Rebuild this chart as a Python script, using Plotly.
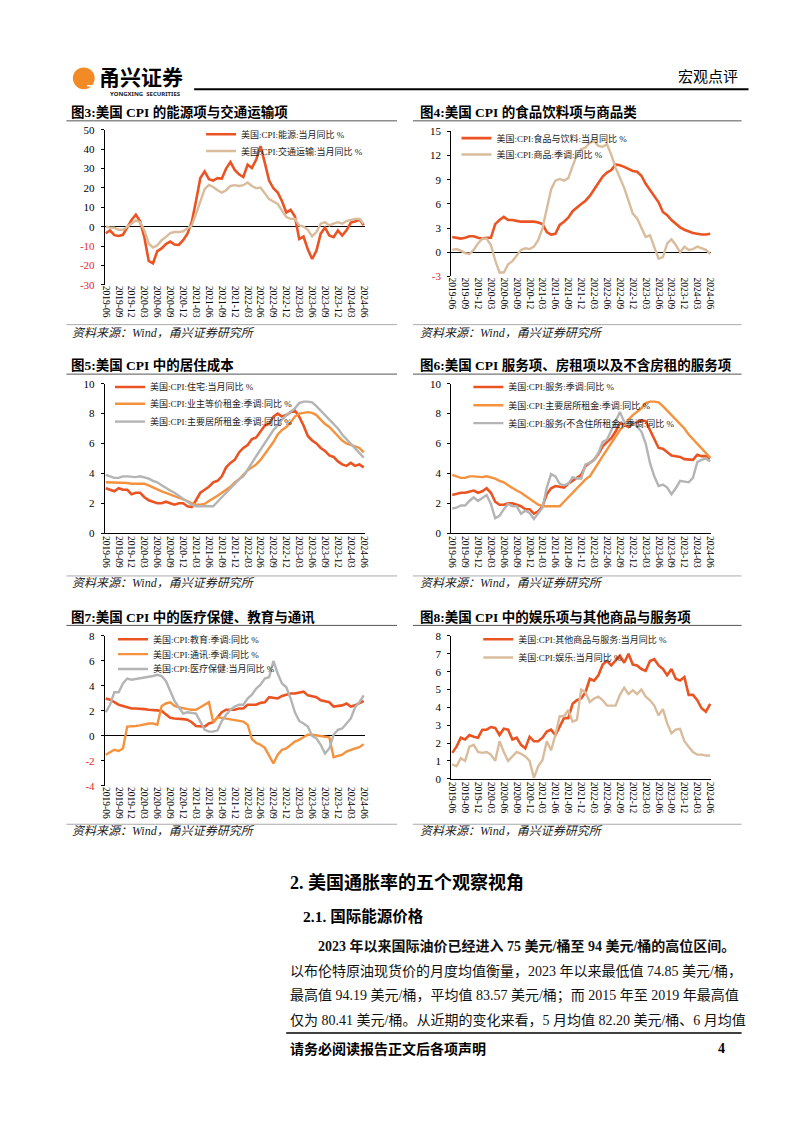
import plotly.graph_objects as go

# page is 802x1133; the html body has an 8px default margin, so the figure is offset by it
W, H = 802, 1133
OFF = 8
FW, FH = W - OFF, H - OFF
def X(px): return (px - OFF) / FW
def Y(py): return 1 - (py - OFF) / FH

# ---------------- data ----------------
tick_labels = ["2019-06", "2019-09", "2019-12", "2020-03", "2020-06", "2020-09", "2020-12",
               "2021-03", "2021-06", "2021-09", "2021-12", "2022-03", "2022-06", "2022-09",
               "2022-12", "2023-03", "2023-06", "2023-09", "2023-12", "2024-03", "2024-06"]
N_MONTHS = 61
months = list(range(N_MONTHS))
tick_vals = list(range(0, N_MONTHS, 3))

energy = [-3.4, -2.0, -4.4, -4.8, -4.2, -0.6, 3.4, 6.2, 2.8, -5.7,
          -17.7, -18.9, -12.6, -11.2, -9.0, -7.7, -9.2, -9.4, -7.0, -3.6,
          2.4, 13.2, 25.1, 28.5, 24.5, 23.8, 25.0, 24.8, 30.0, 33.3,
          29.3, 27.0, 25.6, 32.0, 30.3, 34.6, 41.6, 32.9, 23.8, 19.8,
          17.6, 13.1, 7.3, 8.7, 5.2, -6.4, -5.1, -11.7, -16.7, -12.5,
          -3.6, -0.5, -4.5, -5.4, -2.0, -4.6, -1.9, 2.1, 2.6, 3.7, 0.8]
transport = [0.0, -0.5, -0.6, -1.6, -1.6, 0.0, 2.0, 3.2, 2.3, -2.0,
             -8.7, -10.8, -9.6, -7.0, -5.3, -3.3, -2.8, -2.8, -2.4, -1.0,
             0.6, 6.6, 13.4, 19.4, 21.5, 20.5, 18.8, 17.6, 18.8, 21.0,
             21.4, 21.0, 21.4, 22.8, 21.0, 19.8, 20.2, 17.1, 14.2, 13.0,
             11.7, 8.3, 4.9, 4.0, 4.0, 0.6, 0.0, -1.6, -5.0, -2.8,
             1.5, 2.3, 0.6, 1.5, 2.3, 1.5, 2.9, 3.5, 4.0, 4.0, 1.5]
food = [1.9, 1.8, 1.7, 1.8, 2.0, 2.0, 1.8, 1.7, 1.8, 1.8,
        3.5, 4.0, 4.4, 4.0, 4.0, 3.9, 3.8, 3.8, 3.8, 3.8,
        3.7, 3.5, 2.5, 2.2, 2.3, 3.4, 3.8, 4.3, 5.1, 5.6,
        6.0, 6.4, 7.0, 7.8, 8.6, 9.4, 9.9, 10.2, 10.9, 10.8,
        10.6, 10.3, 10.1, 10.0, 9.5, 8.5, 7.7, 7.0, 6.2, 5.0,
        4.6, 4.0, 3.5, 3.1, 2.8, 2.6, 2.4, 2.3, 2.2, 2.2, 2.3]
goods = [0.3, 0.4, 0.2, -0.1, -0.2, 0.3, 1.1, 1.7, 1.7, 0.9,
         -1.0, -2.5, -2.5, -1.5, -1.1, -0.4, 0.3, 0.5, 0.4, 0.7,
         1.5, 3.0, 5.6, 7.8, 8.9, 9.1, 8.9, 9.2, 10.7, 12.1,
         12.8, 13.0, 13.6, 13.8, 13.2, 13.1, 13.4, 12.1, 10.5, 9.3,
         8.0, 6.4, 4.8, 4.2, 3.1, 1.9, 2.1, 0.7, -0.8, -0.6,
         1.1, 1.6, 0.9, 0.0, 0.7, 0.3, 0.4, 0.7, 0.5, 0.3, -0.2]
housing = [3.0, 2.9, 2.8, 3.0, 2.9, 2.9, 2.6, 2.7, 2.7, 2.4,
           2.2, 2.1, 2.0, 2.0, 2.1, 2.0, 1.9, 2.0, 2.0, 1.8,
           1.75, 2.2, 2.7, 2.9, 3.1, 3.4, 3.5, 3.8, 4.4, 4.7,
           4.9, 5.4, 5.7, 5.9, 6.3, 6.4, 6.8, 7.2, 7.3, 7.8,
           8.0, 7.8, 7.9, 8.1, 8.2, 7.8, 7.2, 6.5, 6.2, 6.0,
           5.7, 5.5, 5.2, 5.1, 4.8, 4.6, 4.5, 4.7, 4.5, 4.6, 4.4]
oer = [3.4, 3.4, 3.4, 3.4, 3.4, 3.35, 3.3, 3.3, 3.3, 3.3,
       3.2, 3.05, 2.9, 2.8, 2.7, 2.6, 2.5, 2.4, 2.3, 2.15,
       2.0, 1.9, 1.9, 1.95, 2.15, 2.3, 2.5, 2.7, 2.9, 3.1,
       3.4, 3.6, 3.9, 4.2, 4.4, 4.6, 4.9, 5.3, 5.7, 6.1,
       6.6, 6.9, 7.1, 7.4, 7.8, 8.0, 8.05, 8.1, 8.05, 7.9,
       7.6, 7.3, 7.1, 6.8, 6.5, 6.2, 6.0, 5.9, 5.8, 5.7, 5.4]
rent = [3.9, 3.8, 3.7, 3.7, 3.8, 3.8, 3.75, 3.75, 3.8, 3.75,
        3.65, 3.5, 3.4, 3.2, 3.0, 2.85, 2.7, 2.5, 2.35, 2.1,
        1.9, 1.8, 1.8, 1.8, 1.75, 1.8, 2.1, 2.4, 2.7, 3.0,
        3.3, 3.6, 3.8, 4.3, 4.7, 5.15, 5.6, 6.0, 6.5, 6.9,
        7.2, 7.6, 7.9, 8.1, 8.35, 8.7, 8.8, 8.8, 8.75, 8.5,
        8.2, 7.9, 7.6, 7.3, 7.0, 6.6, 6.3, 6.0, 5.7, 5.4, 5.05]
services = [2.55, 2.65, 2.7, 2.7, 2.8, 2.85, 2.7, 2.8, 3.0, 2.7,
            2.1, 1.9, 1.9, 2.0, 2.0, 1.9, 1.8, 1.6, 1.6, 1.3,
            1.45, 1.8, 2.6, 3.0, 3.15, 3.1, 3.05, 3.3, 3.5, 3.7,
            3.9, 4.5, 4.7, 4.9, 5.3, 5.8, 6.1, 6.35, 6.8, 7.35,
            7.25, 7.1, 7.3, 7.45, 7.55, 7.5, 6.9, 6.25, 5.7, 5.65,
            5.4, 5.2, 5.15, 5.1, 4.95, 4.9, 4.9, 5.25, 5.15, 5.15, 5.0]
services_ex = [1.65, 1.7, 1.85, 1.85, 2.15, 2.4, 2.15, 2.35, 2.55, 1.95,
               1.0, 1.15, 1.6, 1.95, 1.8, 1.8, 1.3, 1.5, 1.35, 0.95,
               1.3, 1.7, 3.05, 3.95, 3.8, 3.3, 3.2, 3.3, 3.75, 3.65,
               3.65, 4.6, 4.7, 4.9, 5.35, 6.1, 6.25, 6.9, 7.45, 8.1,
               7.45, 7.25, 7.45, 7.15, 6.8, 6.0, 4.7, 3.8, 3.15, 3.25,
               3.05, 2.6, 3.0, 3.5, 3.45, 3.4, 3.7, 4.75, 4.9, 5.0, 4.8]
education = [3.0, 2.9, 2.7, 2.5, 2.4, 2.3, 2.2, 2.2, 2.2, 2.15,
             2.1, 2.1, 2.05, 2.0, 1.7, 1.45, 1.4, 1.4, 1.35, 1.3,
             1.1, 0.8, 0.75, 0.75, 1.0, 1.1, 1.5, 1.9, 2.1, 2.1,
             2.1, 2.2, 2.2, 2.5, 2.5, 2.5, 2.65, 2.7, 3.1, 3.05,
             3.0, 3.2, 3.3, 3.4, 3.4, 3.45, 3.55, 3.25, 3.2, 3.1,
             2.85, 2.75, 2.7, 2.35, 2.4, 2.45, 2.6, 2.35, 2.45, 2.6, 2.8]
telecom = [-1.5, -1.3, -1.1, -1.2, -1.0, 0.75, 0.75, 0.8, 0.85, 0.95,
           1.0, 1.0, 0.9, 2.4, 2.6, 2.7, 2.4, 2.3, 2.2, 2.15,
           2.1, 2.1, 2.3, 2.5, 2.7, 1.1, 1.5, 1.45, 1.4, 1.35,
           1.3, 1.2, 1.15, 0.9, -0.25, -0.55, -0.7, -0.95, -1.55, -2.2,
           -1.5, -1.1, -1.0, -0.7, -0.45, -0.3, -0.1, 0.1, 0.1, 0.05,
           -0.05, -0.05, -0.1, -1.7, -1.6, -1.5, -1.25, -1.1, -1.0, -0.9, -0.65]
medical = [1.9, 2.5, 3.5, 3.5, 4.2, 4.6, 4.5, 4.55, 4.6, 4.65,
           4.7, 4.8, 4.9, 4.8, 4.4, 3.6, 2.8, 2.3, 1.8, 1.9,
           1.85, 1.8, 1.15, 0.5, 0.35, 0.35, 0.45, 1.2, 1.7, 2.1,
           2.35, 2.5, 2.5, 3.0, 3.3, 3.8, 4.1, 4.6, 4.7, 6.0,
           5.0, 4.2, 3.9, 3.0, 1.9, 1.2, 1.0, 0.75, 0.0, -0.2,
           -0.7, -1.4, -1.0, 0.1, 0.5, 0.6, 1.0, 1.4, 2.3, 2.7, 3.25]
other_gs = [1.45, 1.8, 2.3, 2.2, 2.45, 2.35, 2.3, 2.75, 2.75, 2.9,
            2.85, 2.45, 2.8, 2.75, 2.2, 2.3, 1.9, 1.7, 2.35, 2.1,
            2.1, 2.3, 2.65, 2.75, 2.45, 2.9, 3.4, 3.4, 4.2, 4.4,
            4.5, 4.85, 5.6, 5.5, 5.8, 6.4, 6.6, 6.35, 6.6, 6.9,
            6.5, 7.0, 6.4, 6.35, 6.15, 6.05, 6.6, 6.7, 6.35, 6.15,
            5.8, 6.15, 5.6, 5.5, 5.7, 4.7, 4.7, 4.4, 3.95, 3.75, 4.2]
recreation = [0.8, 0.7, 1.15, 1.0, 1.8, 1.9, 1.5, 1.45, 1.5, 1.35,
              1.0, 2.1, 1.5, 1.0, 1.25, 1.5, 1.4, 1.25, 1.0, 0.05,
              0.7, 1.05, 2.1, 1.6, 2.45, 3.5, 3.5, 3.85, 3.2, 3.3,
              5.0, 4.85, 4.3, 4.5, 4.6, 4.4, 4.1, 4.1, 4.1, 4.7,
              5.1, 4.75, 4.95, 4.75, 5.0, 4.6, 4.4, 4.1, 3.55, 3.9,
              3.1, 2.55, 2.75, 2.8, 2.1, 1.8, 1.5, 1.35, 1.35, 1.3, 1.3]

# ---------------- styles ----------------
RED = "#EA5423"
ORANGE = "#F5923E"
GRAY = "#B4B4B4"
TAN = "#D9BC9C"
NEG = "#E5262B"
FONT = "Liberation Serif, Noto Sans CJK SC, serif"
CJK = "Noto Sans CJK SC, sans-serif"

LEFT = dict(ax0=101.7, ax1=364.5, title_x=66, line0=63, line1=397, src_x=67)
RIGHT = dict(ax0=451.7, ax1=714.5, title_x=418, line0=413, line1=745, src_x=418)
ROW1 = dict(title_y=107, tline=116, sline=322, src_y=330)
ROW2 = dict(title_y=363, tline=372, sline=576, src_y=583)
ROW3 = dict(title_y=617, tline=626, sline=827, src_y=834)

charts = [
    dict(col=LEFT, row=ROW1, title="图3:美国 CPI 的能源项与交通运输项",
         top=125, bottom=281.7, yr=[-30, 50], yt=[-30, -20, -10, 0, 10, 20, 30, 40, 50], axis_zero=True,
         series=[("美国:CPI:能源:当月同比 %", energy, RED, 2.6),
                 ("美国:CPI:交通运输:当月同比 %", transport, TAN, 2.4)],
         leg=[(207, 133), (207, 150)]),
    dict(col=RIGHT, row=ROW1, title="图4:美国 CPI 的食品饮料项与商品类",
         top=126.7, bottom=273.3, yr=[-3, 15], yt=[-3, 0, 3, 6, 9, 12, 15], axis_zero=True,
         series=[("美国:CPI:食品与饮料:当月同比 %", food, RED, 2.6),
                 ("美国:CPI:商品:季调:同比 %", goods, TAN, 2.4)],
         leg=[(465, 137), (465, 153.5)]),
    dict(col=LEFT, row=ROW2, title="图5:美国 CPI 中的居住成本",
         top=381.7, bottom=532.7, yr=[0, 10], yt=[0, 2, 4, 6, 8, 10], axis_zero=False,
         series=[("美国:CPI:住宅:当月同比 %", housing, RED, 2.6),
                 ("美国:CPI:业主等价租金:季调:同比 %", oer, ORANGE, 2.4),
                 ("美国:CPI:主要居所租金:季调:同比 %", rent, GRAY, 2.4)],
         leg=[(115, 388.5), (115, 405.5), (115, 423.5)]),
    dict(col=RIGHT, row=ROW2, title="图6:美国 CPI 服务项、房租项以及不含房租的服务项",
         top=381.7, bottom=532.7, yr=[0, 10], yt=[0, 2, 4, 6, 8, 10], axis_zero=False,
         series=[("美国:CPI:服务:季调:同比 %", services, RED, 2.6),
                 ("美国:CPI:主要居所租金:季调:同比 %", rent, ORANGE, 2.4),
                 ("美国:CPI:服务(不含住所租金):季调:同比 %", services_ex, GRAY, 2.4)],
         leg=[(477, 388.5), (477, 407), (477, 425)]),
    dict(col=LEFT, row=ROW3, title="图7:美国 CPI 中的医疗保健、教育与通讯",
         top=636.7, bottom=788.3, yr=[-4, 8], yt=[-4, -2, 0, 2, 4, 6, 8], axis_zero=True,
         series=[("美国:CPI:教育:季调:同比 %", education, RED, 2.6),
                 ("美国:CPI:通讯:季调:同比 %", telecom, ORANGE, 2.4),
                 ("美国:CPI:医疗保健:当月同比 %", medical, GRAY, 2.4)],
         leg=[(118, 643.5), (118, 658.5), (118, 673.5)]),
    dict(col=RIGHT, row=ROW3, title="图8:美国 CPI 中的娱乐项与其他商品与服务项",
         top=636.7, bottom=781, yr=[0, 8], yt=[0, 1, 2, 3, 4, 5, 6, 7, 8], axis_zero=False,
         series=[("美国:CPI:其他商品与服务:当月同比 %", other_gs, RED, 2.6),
                 ("美国:CPI:娱乐:当月同比 %", recreation, TAN, 2.4)],
         leg=[(487, 643.5), (487, 662)]),
]
LEG_DY = -3.5  # plotly legend rows sit slightly low, nudge up

def ytext(v):
    s = f"{v:g}"
    return f'<span style="color:{NEG}">{s}</span>' if v < 0 else s

fig = go.Figure()
layout = dict(width=FW, height=FH, margin=dict(l=0, r=0, t=0, b=0), autosize=False,
              paper_bgcolor="white", plot_bgcolor="white", showlegend=True,
              font=dict(family=FONT, size=10, color="black"))
annotations, shapes = [], []
k = 0
for ci, ch in enumerate(charts):
    sfx = "" if ci == 0 else str(ci + 1)
    col, row = ch["col"], ch["row"]
    for (name, vals, color, width), (lx, ly) in zip(ch["series"], ch["leg"]):
        k += 1
        lid = "legend" if k == 1 else f"legend{k}"
        fig.add_trace(go.Scatter(x=months, y=vals, mode="lines", name=name,
                                 line=dict(color=color, width=width),
                                 xaxis="x" + sfx, yaxis="y" + sfx, legend=lid,
                                 hoverinfo="skip"))
        layout[lid] = dict(x=X(lx - 8), y=Y(ly + LEG_DY), xanchor="left", yanchor="middle",
                           bgcolor="rgba(0,0,0,0)", borderwidth=0, itemwidth=30,
                           font=dict(family=FONT, size=9, color="#222"))
    layout["xaxis" + sfx] = dict(
        domain=[X(col["ax0"]), X(col["ax1"])], range=[-0.23, 60.28], anchor="y" + sfx,
        tickvals=tick_vals, ticktext=tick_labels, tickangle=90, showgrid=False,
        zeroline=False, showline=not ch["axis_zero"], linecolor="black", linewidth=1,
        ticks="", tickfont=dict(family=FONT, size=9.5, color="black"), fixedrange=True)
    layout["yaxis" + sfx] = dict(
        domain=[Y(ch["bottom"]), Y(ch["top"])], range=ch["yr"], anchor="x" + sfx,
        tickvals=ch["yt"], ticktext=[ytext(v) for v in ch["yt"]], showgrid=False,
        zeroline=ch["axis_zero"], zerolinecolor="black", zerolinewidth=1,
        showline=True, linecolor="black", linewidth=1, ticks="outside", ticklen=3,
        tickcolor="black", ticklabelstandoff=4,
        tickfont=dict(family=FONT, size=11, color="black"), fixedrange=True)
    annotations.append(dict(text=f"<b>{ch['title']}</b>", x=X(col["title_x"]), y=Y(row["title_y"]),
                            xref="paper", yref="paper", xanchor="left", yanchor="middle",
                            showarrow=False, font=dict(family=FONT, size=13.5, color="black")))
    shapes.append(dict(type="line", xref="paper", yref="paper", x0=X(col["line0"]), x1=X(col["line1"]),
                       y0=Y(row["tline"]), y1=Y(row["tline"]), line=dict(color="#555", width=1)))
    shapes.append(dict(type="line", xref="paper", yref="paper", x0=X(col["line0"]), x1=X(col["line1"]),
                       y0=Y(row["sline"]), y1=Y(row["sline"]), line=dict(color="#aaa", width=1)))
    annotations.append(dict(text="<i>资料来源：Wind，甬兴证券研究所</i>", x=X(col["src_x"]), y=Y(row["src_y"]),
                            xref="paper", yref="paper", xanchor="left", yanchor="middle",
                            showarrow=False, font=dict(family=FONT, size=12, color="#222")))

# ---------------- page header ----------------
shapes.append(dict(type="circle", xref="paper", yref="paper", x0=X(69.5), x1=X(91.5), y0=Y(84), y1=Y(62),
                   fillcolor="#F28A26", line=dict(color="#F28A26", width=0)))
annotations.append(dict(text="<b>王</b>", x=X(80.5), y=Y(73), xref="paper", yref="paper",
                        showarrow=False, font=dict(family=CJK, size=13, color="white")))
annotations.append(dict(text="<b>甬兴证券</b>", x=X(94), y=Y(71), xref="paper", yref="paper",
                        xanchor="left", yanchor="middle", showarrow=False,
                        font=dict(family=CJK, size=21, color="black")))
annotations.append(dict(text="<b>YONGXING  SECURITIES</b>", x=X(105), y=Y(89), xref="paper", yref="paper",
                        xanchor="left", yanchor="middle", showarrow=False,
                        font=dict(family="Noto Sans, sans-serif", size=6, color="#222")))
annotations.append(dict(text="宏观点评", x=X(743), y=Y(70), xref="paper", yref="paper",
                        xanchor="right", yanchor="middle", showarrow=False,
                        font=dict(family=CJK, size=15, color="black")))
shapes.append(dict(type="line", xref="paper", yref="paper", x0=X(192), x1=X(752), y0=Y(84), y1=Y(84),
                   line=dict(color="black", width=2)))

# ---------------- body text ----------------
BODY = "Liberation Serif, Noto Sans CJK SC, serif"
annotations.append(dict(text="<b>2. 美国通胀率的五个观察视角</b>", x=X(287), y=Y(886), xref="paper", yref="paper",
                        xanchor="left", yanchor="middle", showarrow=False,
                        font=dict(family=BODY, size=18, color="black")))
annotations.append(dict(text="<b>2.1. 国际能源价格</b>", x=X(300), y=Y(920), xref="paper", yref="paper",
                        xanchor="left", yanchor="middle", showarrow=False,
                        font=dict(family=BODY, size=15.5, color="black")))
body_lines = [
    (315, "<b>2023 年以来国际油价已经进入 75 美元/桶至 94 美元/桶的高位区间。</b>"),
    (287, "以布伦特原油现货价的月度均值衡量，2023 年以来最低值 74.85 美元/桶，"),
    (287, "最高值 94.19 美元/桶，平均值 83.57 美元/桶；而 2015 年至 2019 年最高值"),
    (287, "仅为 80.41 美元/桶。从近期的变化来看，5 月均值 82.20 美元/桶、6 月均值"),
]
for i, (bx, txt) in enumerate(body_lines):
    annotations.append(dict(text=txt, x=X(bx), y=Y(950 + i * 25), xref="paper", yref="paper",
                            xanchor="left", yanchor="middle", showarrow=False,
                            font=dict(family=BODY, size=14, color="#111")))
shapes.append(dict(type="line", xref="paper", yref="paper", x0=X(285), x1=X(745), y0=Y(1038), y1=Y(1038),
                   line=dict(color="black", width=1.5)))
annotations.append(dict(text="<b>请务必阅读报告正文后各项声明</b>", x=X(287), y=Y(1054), xref="paper", yref="paper",
                        xanchor="left", yanchor="middle", showarrow=False,
                        font=dict(family=BODY, size=14, color="black")))
annotations.append(dict(text="<b>4</b>", x=X(725), y=Y(1054), xref="paper", yref="paper",
                        xanchor="center", yanchor="middle", showarrow=False,
                        font=dict(family=BODY, size=14, color="black")))

layout["annotations"] = annotations
layout["shapes"] = shapes
fig.update_layout(**layout)
fig.write_html("out.html")
